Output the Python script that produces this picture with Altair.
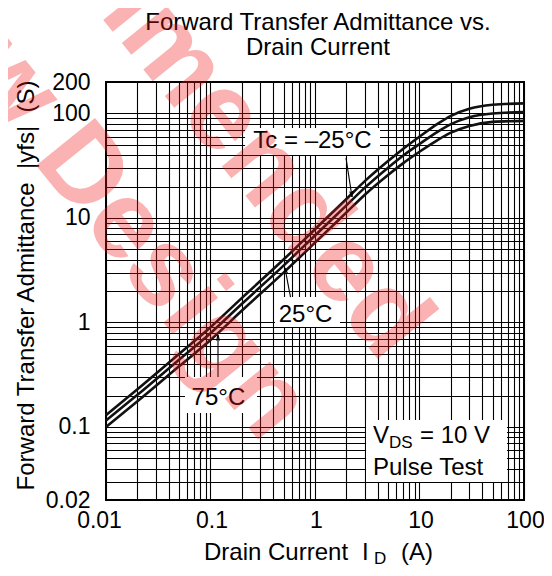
import altair as alt
import pandas as pd

# ---------------- data ----------------
I_D = [0.01, 0.02, 0.05, 0.1, 0.2, 0.5, 1, 2, 3, 5, 7, 10, 15, 20, 30, 50, 100]
YFS_M25 = [0.13, 0.23, 0.50, 0.90, 1.72, 4.0, 7.8, 15.2, 22.5, 35, 46, 60, 80, 95, 111, 121, 125]
YFS_25 = [0.115, 0.203, 0.44, 0.79, 1.51, 3.5, 6.8, 13.2, 19.5, 30.3, 39.6, 51, 67, 79, 92, 100, 103]
YFS_75 = [0.10, 0.176, 0.38, 0.68, 1.3, 3.0, 5.8, 11.3, 16.7, 25.8, 33.5, 43, 56, 65.5, 76, 83, 85]
SERIES = ["-25", "25", "75"]

X_LABELS = [0.01, 0.1, 1, 10, 100]
Y_LABELS = [0.02, 0.1, 1, 10, 100, 200]
X_GRID = [round(m * 10.0 ** k, 6) for k in range(-2, 2) for m in range(1, 10)] + [100]
Y_GRID = [round(m * 10.0 ** k, 6) for k in range(-2, 2) for m in range(1, 10)
          if round(m * 10.0 ** k, 6) >= 0.02] + [100, 200]

FONT = "Liberation Sans"
NB = "\u00a0"

rows = []
for name, vals in zip(SERIES, [YFS_M25, YFS_25, YFS_75]):
    for x, y in zip(I_D, vals):
        rows.append({"id": x, "yfs": y, "tc": name})
curves_df = pd.DataFrame(rows)

xscale = alt.Scale(type="log", domain=[0.01, 100], nice=False)
yscale = alt.Scale(type="log", domain=[0.02, 200], nice=False)

x_lab_expr = "indexof(%s, datum.value) >= 0 ? format(datum.value, '~g') : ''" % X_LABELS
y_lab_expr = "indexof(%s, datum.value) >= 0 ? format(datum.value, '~g') : ''" % Y_LABELS

xaxis = alt.Axis(values=X_GRID, grid=True, gridColor="#000000", gridWidth=1.1, gridOpacity=1,
                 ticks=False, tickSize=0, domain=False, labelExpr=x_lab_expr,
                 labelFont=FONT, labelFontSize=23, labelColor="black", labelPadding=9,
                 labelOverlap=False, labelFlush=False,
                 labelOffset={"condition": {"test": "datum.value == 0.01", "value": -7}, "value": 1},
                 title=None)
yaxis = alt.Axis(values=Y_GRID, grid=True, gridColor="#000000", gridWidth=1.1, gridOpacity=1,
                 ticks=False, tickSize=0, domain=False, labelExpr=y_lab_expr,
                 labelFont=FONT, labelFontSize=23, labelColor="black", labelPadding=16,
                 labelOverlap=False, labelFlush=False,
                 title="Forward Transfer Admittance" + NB + " |yfs|" + NB + " (S)", titleFont=FONT,
                 titleFontSize=24, titleFontWeight="normal", titleColor="black",
                 titleAngle=270, titleX=-73, titleY=203, titleAlign="center",
                 titleBaseline="alphabetic")

# white label boxes (data coordinates)
boxes = pd.DataFrame({
    "x1": [0.214, 0.414, 0.057, 3.08],
    "x2": [4.19, 1.734, 0.279, 68.7],
    "y1": [40.0, 0.906, 0.136, 0.0297],
    "y2": [72.6, 1.75, 0.301, 0.1166],
})
box_layer = alt.Chart(boxes).mark_rect(fill="white", stroke=None).encode(
    x=alt.X("x1:Q", scale=xscale, axis=xaxis),
    x2="x2:Q",
    y=alt.Y("y1:Q", scale=yscale, axis=yaxis),
    y2="y2:Q",
)

curve_layer = alt.Chart(curves_df).mark_line(
    color="#111111", strokeWidth=2.6, interpolate="monotone"
).encode(
    x=alt.X("id:Q", scale=xscale),
    y=alt.Y("yfs:Q", scale=yscale),
    detail="tc:N",
)

# annotation texts (data coordinates)
ann = pd.DataFrame({
    "x": [0.946, 0.811, 0.119, 3.59, 10.1, 3.59],
    "y": [46.7, 1.02, 0.162, 0.0702, 0.0702, 0.0347],
    "t": ["Tc = \u201325\u00b0C", "25\u00b0C", "75\u00b0C", "V", "= 10 V", "Pulse Test"],
    "a": ["center", "center", "center", "left", "left", "left"],
})
ann_center = alt.Chart(ann[ann.a == "center"]).mark_text(
    font=FONT, fontSize=24, color="black", align="center", baseline="alphabetic"
).encode(x=alt.X("x:Q", scale=xscale), y=alt.Y("y:Q", scale=yscale), text="t:N")
ann_left = alt.Chart(ann[ann.a == "left"]).mark_text(
    font=FONT, fontSize=24, color="black", align="left", baseline="alphabetic"
).encode(x=alt.X("x:Q", scale=xscale), y=alt.Y("y:Q", scale=yscale), text="t:N")
sub_ds = alt.Chart(pd.DataFrame({"x": [5.11], "y": [0.0629], "t": ["DS"]})).mark_text(
    font=FONT, fontSize=17, color="black", align="left", baseline="alphabetic"
).encode(x=alt.X("x:Q", scale=xscale), y=alt.Y("y:Q", scale=yscale), text="t:N")

# arrows
arrows = pd.DataFrame({
    "x1": [1.98, 0.583, 0.118],
    "y1": [37.5, 1.75, 0.301],
    "x2": [2.26, 0.516, 0.118],
    "y2": [15.9, 3.32, 0.76],
    "ang": [351.3, 169.3, 180.0],
})
arrow_lines = alt.Chart(arrows).mark_rule(color="black", strokeWidth=1.1).encode(
    x=alt.X("x1:Q", scale=xscale), y=alt.Y("y1:Q", scale=yscale), x2="x2:Q", y2="y2:Q")
arrow_heads = alt.Chart(arrows).mark_point(
    shape="M -0.45 -1.8 L 0 0 L 0.45 -1.8", filled=False, color="black",
    strokeWidth=1.1, size=40, opacity=1
).encode(x=alt.X("x2:Q", scale=xscale), y=alt.Y("y2:Q", scale=yscale),
         angle=alt.Angle("ang:Q", scale=None))

# text outside the plot (pixel positions relative to plot origin)
one = pd.DataFrame({"a": [0]})


def txt(s, x, y, size=24, align="left", weight="normal"):
    return alt.Chart(one).mark_text(
        text=s, font=FONT, fontSize=size, color="black", align=align,
        baseline="alphabetic", fontWeight=weight
    ).encode(x=alt.value(x), y=alt.value(y))


outside = [
    txt("Forward Transfer Admittance vs.", 212, -52, 24, "center"),
    txt("Drain Current", 212, -27, 24, "center"),
    txt("Drain Current", 98, 478),
    txt("I", 256, 478),
    txt("D", 268, 482, 17),
    txt("(A)", 295, 478),
]

# watermark
wm = [
    alt.Chart(one).mark_text(text=t, font=FONT, fontSize=110, fontWeight="bold",
                             color="#f01818", opacity=0.33, angle=51, align="right",
                             baseline="middle").encode(x=alt.value(x), y=alt.value(y))
    for t, x, y in [("Not Recommended", 302, 262), ("for New Design", 182, 342)]
]

chart = alt.layer(
    box_layer, curve_layer, ann_center, ann_left, sub_ds, arrow_lines, arrow_heads,
    *outside, *wm
).properties(
    width=418, height=418,
    autosize=alt.AutoSizeParams(type="none"),
    padding={"left": 98, "top": 74, "right": 20, "bottom": 68},
).configure_view(stroke="black", strokeWidth=2)

chart.save("out.html", embed_options={"renderer": "svg", "actions": False})
